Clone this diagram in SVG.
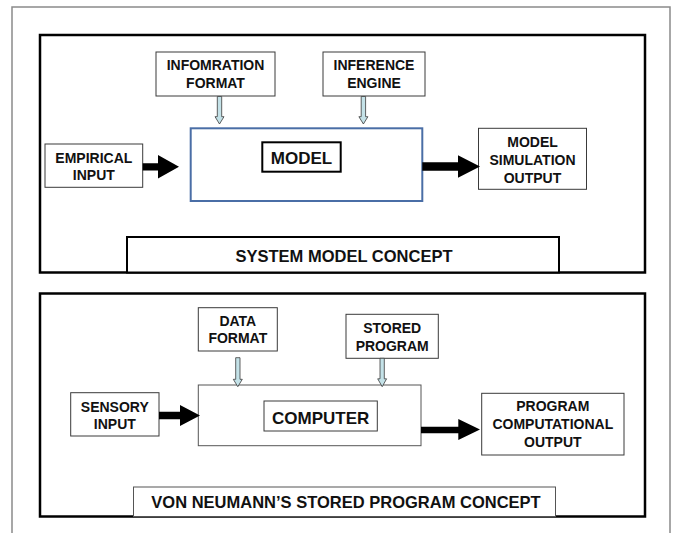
<svg xmlns="http://www.w3.org/2000/svg" width="673" height="533" viewBox="0 0 673 533">
  <style>
    text { font-family: "Liberation Sans", Arial, sans-serif; font-weight: bold; fill: #111; text-anchor: middle; }
    .t14 { font-size: 14px; }
    .t17 { font-size: 17px; }
    .t16 { font-size: 16.5px; }
    .box { fill: #fff; stroke: #3a3a3a; stroke-width: 1; }
    .panel { fill: none; stroke: #000; stroke-width: 2.5; }
    .fat { fill: #000; stroke: none; }
    .thin { fill: #c4e2e8; stroke: #3a3a3a; stroke-width: 0.8; }
  </style>

  <rect x="0" y="0" width="673" height="533" fill="#fff"/>
  <!-- page frame -->
  <rect x="12" y="7" width="658" height="540" fill="none" stroke="#8a8a8a" stroke-width="1.5"/>

  <!-- upper panel: system model concept -->
  <g id="panel-system-model">
    <rect class="panel" x="40" y="35" width="605" height="237.5"/>
  </g>
  <g id="caption-system-model">
    <rect x="127" y="237" width="432" height="35.5" fill="#fff" stroke="#000" stroke-width="2"/>
    <text class="t16" x="344" y="261.7">SYSTEM MODEL CONCEPT</text>
  </g>
  <g id="information-format">
    <rect class="box" x="156" y="52" width="119" height="44"/>
    <text class="t14" x="215.5" y="70">INFOMRATION</text>
    <text class="t14" x="215.5" y="87.6">FORMAT</text>
  </g>
  <g id="inference-engine">
    <rect class="box" x="323" y="52" width="102" height="44"/>
    <text class="t14" x="374" y="70">INFERENCE</text>
    <text class="t14" x="374" y="87.6">ENGINE</text>
  </g>
  <g id="model">
    <rect x="190.7" y="128.3" width="231.6" height="72.7" fill="#fff" stroke="#4a6ea6" stroke-width="2"/>
    <rect x="262.3" y="142.3" width="78.4" height="29.4" fill="#fff" stroke="#000" stroke-width="2"/>
    <text class="t17" x="301.5" y="164.3">MODEL</text>
  </g>
  <g id="empirical-input">
    <rect class="box" x="45" y="144" width="97.7" height="43.3"/>
    <text class="t14" x="93.8" y="162.7">EMPIRICAL</text>
    <text class="t14" x="93.8" y="180">INPUT</text>
  </g>
  <g id="model-simulation-output">
    <rect class="box" x="478.5" y="128.3" width="108" height="61"/>
    <text class="t14" x="532.5" y="146.7">MODEL</text>
    <text class="t14" x="532.5" y="165">SIMULATION</text>
    <text class="t14" x="532.5" y="182.5">OUTPUT</text>
  </g>

  <!-- lower panel: stored program concept -->
  <g id="panel-stored-program">
    <rect class="panel" x="40" y="293.5" width="605" height="223"/>
  </g>
  <g id="caption-stored-program">
    <rect x="133.5" y="487" width="422" height="29.5" fill="#fff" stroke="#555" stroke-width="1"/>
    <text class="t16" x="346" y="508.3">VON NEUMANN’S STORED PROGRAM CONCEPT</text>
  </g>
  <g id="data-format">
    <rect class="box" x="198.3" y="307.7" width="79" height="43.3"/>
    <text class="t14" x="237.8" y="325.7">DATA</text>
    <text class="t14" x="237.8" y="343.3">FORMAT</text>
  </g>
  <g id="stored-program">
    <rect class="box" x="346" y="314.3" width="92.3" height="44"/>
    <text class="t14" x="392.2" y="333.3">STORED</text>
    <text class="t14" x="392.2" y="350.5">PROGRAM</text>
  </g>
  <g id="computer">
    <rect x="198.3" y="385" width="222.7" height="60.7" fill="#fff" stroke="#555" stroke-width="1"/>
    <rect class="box" x="264" y="401" width="113.3" height="30"/>
    <text class="t17" x="320.7" y="424.3">COMPUTER</text>
  </g>
  <g id="sensory-input">
    <rect class="box" x="70.7" y="392.7" width="88.3" height="43.3"/>
    <text class="t14" x="114.8" y="411.7">SENSORY</text>
    <text class="t14" x="114.8" y="429.3">INPUT</text>
  </g>
  <g id="program-computational-output">
    <rect class="box" x="481.7" y="393.3" width="142.3" height="61.7"/>
    <text class="t14" x="552.8" y="411">PROGRAM</text>
    <text class="t14" x="552.8" y="429.3">COMPUTATIONAL</text>
    <text class="t14" x="552.8" y="447.3">OUTPUT</text>
  </g>

  <!-- connectors -->
  <g id="connectors">
    <!-- heavy block arrows: inputs and outputs -->
    <polygon class="fat" points="142.7,163.2 158,163.2 158,155 179,166.8 158,178.5 158,170.5 142.7,170.5"/>
    <polygon class="fat" points="422.3,162.2 458,162.2 458,155.2 480,166.5 458,177.8 458,170.8 422.3,170.8"/>
    <polygon class="fat" points="159,411.7 180,411.7 180,405 200,415.5 180,426 180,419.2 159,419.2"/>
    <polygon class="fat" points="421,426.7 458.3,426.7 458.3,419 480,429.5 458.3,440 458.3,433.3 421,433.3"/>
    <!-- slim hollow arrows: format and program feeds -->
    <polygon class="thin" points="217.3,96.5 221.7,96.5 221.7,116.7 224,116.7 219.5,124 215,116.7 217.3,116.7"/>
    <polygon class="thin" points="361.2,96.5 365.6,96.5 365.6,116.7 367.9,116.7 363.4,124 358.9,116.7 361.2,116.7"/>
    <polygon class="thin" points="235.7,357.7 240,357.7 240,379.3 242.3,379.3 237.8,386.7 233.3,379.3 235.7,379.3"/>
    <polygon class="thin" points="380,358.3 384.3,358.3 384.3,378.8 386.6,378.8 382.2,386.7 377.7,378.8 380,378.8"/>
  </g>
</svg>
